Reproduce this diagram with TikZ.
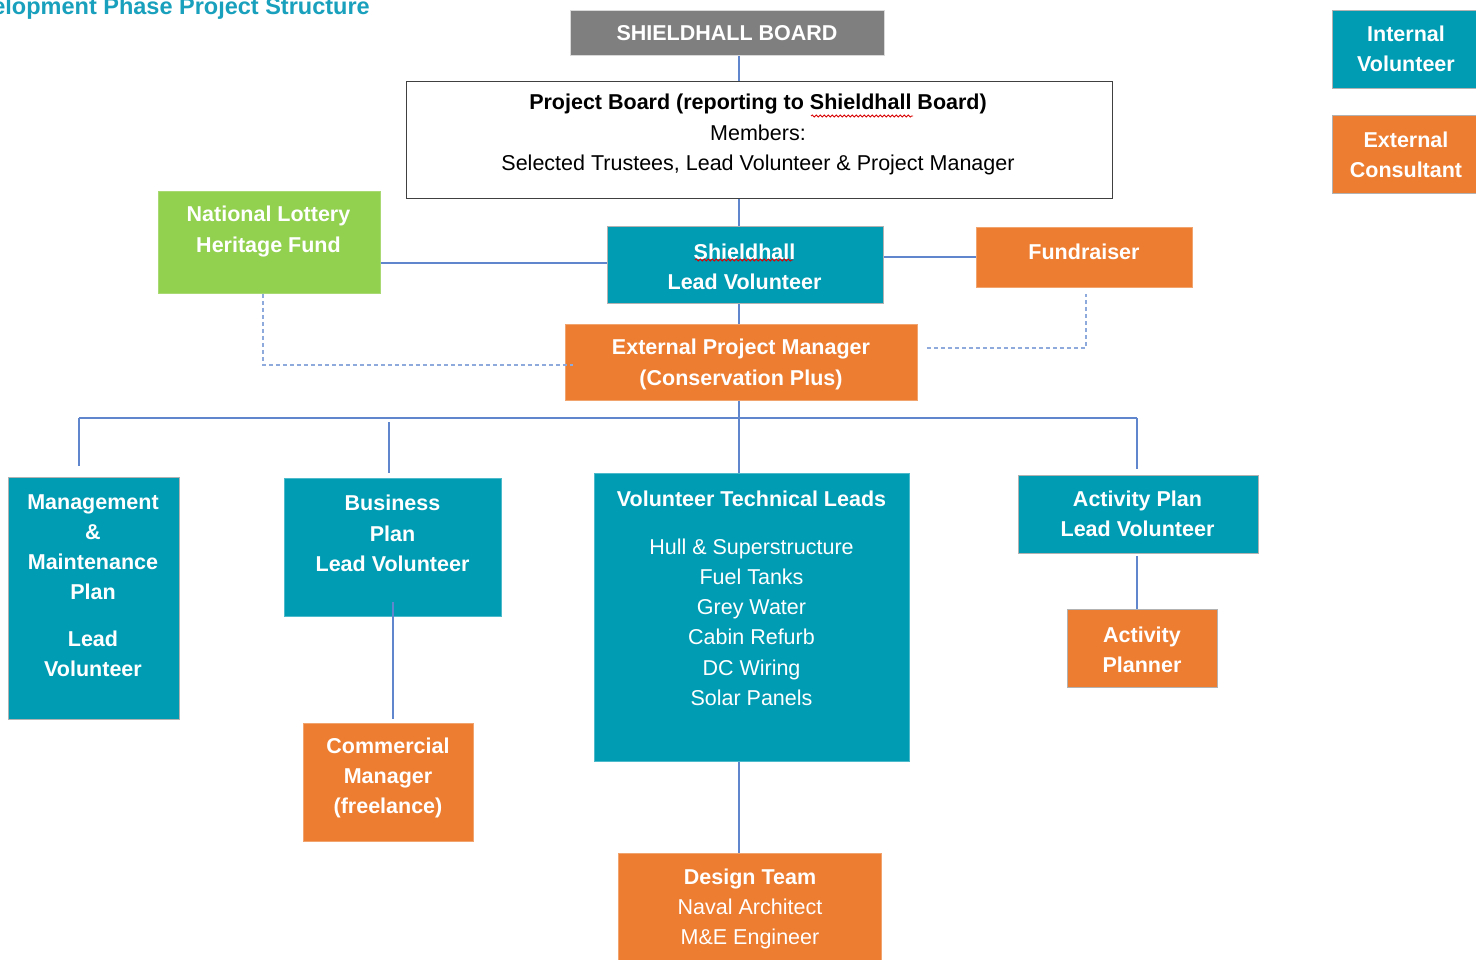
\documentclass[tikz,border=0pt]{standalone}
\usepackage{fontspec}
\setmainfont{Liberation Sans}
\usetikzlibrary{decorations.pathmorphing}

\definecolor{shTeal}{RGB}{0,156,180}
\definecolor{shOrange}{RGB}{237,125,49}
\definecolor{shGreen}{RGB}{146,208,80}
\definecolor{shGray}{RGB}{127,127,127}
\definecolor{shTitle}{RGB}{24,160,188}
\definecolor{linkBlue}{RGB}{96,134,206}
\definecolor{dashBlue}{RGB}{142,169,219}

\newcommand\bx{\fontsize{21.5}{30.2}\selectfont}
\newcommand\rg[1]{{\mdseries #1}}

\tikzset{
  box/.style={rectangle, draw=black!30, line width=0.9pt, inner sep=0pt, anchor=north west},
  txt/.style={text=white, font=\bx\bfseries, align=center, inner sep=0pt},
  link/.style={draw=linkBlue, line width=1.2pt},
  dlink/.style={draw=dashBlue, line width=1.5pt, dash pattern=on 4pt off 3pt},
  spell/.style={draw=red!85!black, line width=0.8pt, decorate,
    decoration={snake, amplitude=1.1pt, segment length=4pt}}
}

\begin{document}
\begin{tikzpicture}[x=1pt, y=-1pt]
  \clip (0,0) rectangle (1476,960);
  \fill[white] (0,0) rectangle (1476,960);

  % heading, running off the top-left corner of the sheet
  \node[anchor=base east, inner sep=0pt, text=shTitle, font=\fontsize{23.5}{28}\selectfont\bfseries] (title) at (370,14.5)
    {Development Phase Project Structure};

  % key
  \node[box, fill=shTeal, minimum width=150pt, minimum height=78pt] (keyInt) at (1332,10) {};
  \node[txt] (keyIntT) at (1406,49) {Internal\\Volunteer};
  \node[box, fill=shOrange, minimum width=150pt, minimum height=78pt] (keyExt) at (1332,115) {};
  \node[txt] (keyExtT) at (1406,154.5) {External\\Consultant};

  % governance
  \node[box, fill=shGray, draw=black!15, minimum width=314pt, minimum height=45pt] (board) at (570,10) {};
  \node[txt] (boardT) at (727,33.5) {SHIELDHALL BOARD};

  \node[box, fill=white, draw=black!75, line width=1.3pt, minimum width=706pt, minimum height=117pt] (pb) at (406,81) {};
  \node[txt, text=black] (pbT) at (758,134.5)
    {Project Board (reporting to Shieldhall Board)\\ \rg{Members:}\\ \rg{Selected Trustees, Lead Volunteer \& Project Manager}};
  \draw[spell] (811,116) -- (913,116);

  \node[box, fill=shGreen, draw=shGreen!80!white, minimum width=222pt, minimum height=102pt] (nlhf) at (158,191) {};
  \node[txt] (nlhfT) at (268.5,231.5) {National Lottery\\Heritage Fund};

  \node[box, fill=shTeal, minimum width=276pt, minimum height=77pt] (slv) at (607,226) {};
  \node[txt] (slvT) at (744.5,266.5) {Shieldhall\\Lead Volunteer};
  \draw[spell] (695,260) -- (793,260);

  \node[box, fill=shOrange, draw=shOrange!70!white, minimum width=216pt, minimum height=60pt] (fund) at (976,227) {};
  \node[txt] (fundT) at (1084,252) {Fundraiser};

  \node[box, fill=shOrange, draw=shOrange!70!white, minimum width=352pt, minimum height=76pt] (epm) at (565,324) {};
  \node[txt] (epmT) at (741,364.5) {External Project Manager\\(Conservation Plus)};

  % workstreams
  \node[box, fill=shTeal, minimum width=171pt, minimum height=242pt] (mmp) at (8,477) {};
  \node[txt] (mmpT) at (93,585.5) {Management\\\&\\Maintenance\\Plan\\[16pt]Lead\\Volunteer};

  \node[box, fill=shTeal, draw=shTeal!70!white, minimum width=217pt, minimum height=138pt] (bpl) at (284,478) {};
  \node[txt] (bplT) at (392.5,533.5) {Business\\Plan\\Lead Volunteer};

  \node[box, fill=shTeal, draw=shTeal!70!white, minimum width=315pt, minimum height=288pt] (vtl) at (594,473) {};
  \node[txt] (vtlT) at (751.5,598) {Volunteer Technical Leads\\[18pt]
    \rg{Hull \& Superstructure}\\ \rg{Fuel Tanks}\\ \rg{Grey Water}\\ \rg{Cabin Refurb}\\ \rg{DC Wiring}\\ \rg{Solar Panels}};

  \node[box, fill=shTeal, minimum width=240pt, minimum height=78pt] (apl) at (1018,475) {};
  \node[txt] (aplT) at (1137.5,514) {Activity Plan\\Lead Volunteer};

  \node[box, fill=shOrange, minimum width=150pt, minimum height=78pt] (ap) at (1067,609) {};
  \node[txt] (apT) at (1142,650) {Activity\\Planner};

  \node[box, fill=shOrange, draw=shOrange!70!white, minimum width=170pt, minimum height=118pt] (cm) at (303,723) {};
  \node[txt] (cmT) at (388,778) {Commercial\\Manager\\(freelance)};

  \node[box, fill=shOrange, draw=shOrange!70!white, minimum width=263pt, minimum height=120pt] (dt) at (618,853) {};
  \node[txt] (dtT) at (750,909) {Design Team\\ \rg{Naval Architect}\\ \rg{M\&E Engineer}};

  % reporting lines
  \coordinate (spine) at (739,0);
  \draw[link] (board.south -| spine) -- (pb.north -| spine);
  \draw[link] (pb.south -| spine) -- (slv.north -| spine);
  \draw[link] (slv.south -| spine) -- (epm.north -| spine);
  \draw[link] (epm.south -| spine) -- (vtl.north -| spine);
  \draw[link] (vtl.south -| spine) -- (dt.north -| spine);

  \coordinate (fundLevel) at (0,263);
  \coordinate (raiseLevel) at (0,257);
  \draw[link] (nlhf.east |- fundLevel) -- (slv.west |- fundLevel);
  \draw[link] (slv.east |- raiseLevel) -- (fund.west |- raiseLevel);

  \coordinate (busL) at (79,418);
  \coordinate (busR) at (1137,418);
  \coordinate (bpTap) at (389,422);
  \coordinate (cmX) at (393,0);
  \draw[link] (busL) -- (busR);
  \draw[link, shorten >=11pt] (busL) -- (busL |- mmp.north);
  \draw[link, shorten >=5pt] (bpTap) -- (bpTap |- bpl.north);
  \draw[link, shorten >=6pt] (busR) -- (busR |- apl.north);
  \draw[link, shorten <=2pt] (apl.south -| busR) -- (ap.north -| busR);
  \draw[link, shorten >=4pt] ([yshift=15pt]bpl.south -| cmX) -- (cm.north -| cmX);

  % funder and fundraiser liaison
  \coordinate (dashL) at (263,365);
  \coordinate (dashR) at (1086,348);
  \draw[dlink] (nlhf.south -| dashL) -- (dashL) -- ([xshift=8pt]epm.west |- dashL);
  \draw[dlink] ([xshift=9pt]epm.east |- dashR) -- (dashR) -- ([yshift=-6pt]fund.south -| dashR);
\end{tikzpicture}
\end{document}
